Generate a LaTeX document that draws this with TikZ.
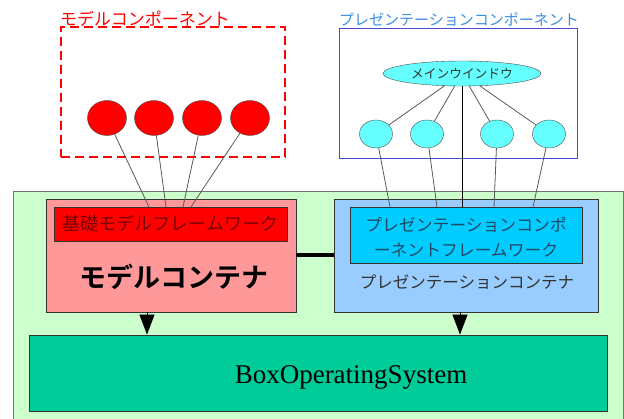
\documentclass[tikz,border=0pt]{standalone}
\usepackage{fontspec}
\setmainfont{Liberation Serif}
\newfontfamily\jp{Noto Sans CJK JP}[BoldFont={Noto Sans CJK JP Bold}]
\definecolor{cmred}{HTML}{FF0000}
\definecolor{cmpink}{HTML}{FF9999}
\definecolor{cmdark}{HTML}{7A0000}
\definecolor{cpblue}{HTML}{99CCFF}
\definecolor{cpcyan}{HTML}{00CCFF}
\definecolor{cplight}{HTML}{66FFFF}
\definecolor{cpline}{HTML}{4848CC}
\definecolor{cplabel}{HTML}{3A8EE6}
\definecolor{cptext}{HTML}{1F4A66}
\definecolor{cgreen}{HTML}{CCFFCC}
\definecolor{cos}{HTML}{00CC99}
\usepackage{tikz}
\usetikzlibrary{arrows.meta,positioning,shapes.geometric}

\begin{document}
\begin{tikzpicture}[x=1pt,y=-1pt,
    box/.style={draw=black!80,line width=0.8pt,inner sep=0pt,align=center},
    jpf/.style={font=\jp\fontsize{#1}{#1}\selectfont},
    redball/.style={ellipse,draw=black!70,fill=cmred,minimum width=39pt,minimum height=35pt,inner sep=0pt},
    cyball/.style={ellipse,draw=black!70,fill=cplight,minimum width=33pt,minimum height=28pt,inner sep=0pt},
    wire/.style={black!65,line width=0.8pt},
    arr/.style={-{Triangle[width=15pt,length=20pt]},black,line width=0.8pt}]
  \useasboundingbox (0,0) rectangle (624,419);
  % outer area and containers
  \node[box,draw=black!55,fill=cgreen,minimum width=610pt,minimum height=240pt] (base) at (318,311) {};
  \node[box,fill=cmpink,minimum width=250pt,minimum height=113pt] (mcont) at (171,255.5) {};
  \node[box,fill=cpblue,minimum width=264pt,minimum height=113pt] (pcont) at (466,255.5) {};
  \node[box,fill=cmred,text=cmdark,jpf=18,minimum width=233pt,minimum height=34pt] (mfw) at (170.5,224) {基礎モデルフレームワーク};
  \node[box,fill=cpcyan,minimum width=232pt,minimum height=56pt] (pfw) at (466,235) {};
  \node[jpf=16.8,text=cptext,align=center] (pfwlab) at (466,237.5)
    {プレゼンテーションコンポ\\[8.5pt]ーネントフレームワーク};
  \node[font=\jp\bfseries\fontsize{27}{27}\selectfont] (mlab) at (174,277) {モデルコンテナ};
  \node[jpf=16.5,text=black!80] (plab) at (467,282) {プレゼンテーションコンテナ};
  \node[box,fill=cos,minimum width=578pt,minimum height=76pt] (os) at (318,373) {};
  \node[font=\fontsize{27}{28}\selectfont,anchor=base] (oslab) at (351,384) {BoxOperatingSystem};
  \draw[line width=4pt] (mcont.east) -- (pcont.west);
  \draw[arr] ([xshift=-24pt]mcont.south) -- ([xshift=-24pt]mcont.south |- os.north);
  \draw[arr] ([xshift=-6pt]pcont.south) -- ([xshift=-6pt]pcont.south |- os.north);

  % model components
  \node[draw=cmred,dashed,dash pattern=on 9pt off 5pt,line width=2.5pt,minimum width=224pt,minimum height=130pt] (mcomp) at (173,92) {};
  \node[jpf=17,text=cmred,anchor=south west,inner sep=0pt] (mclab) at (60,27) {モデルコンポーネント};
  \node[redball] (m1) at (107,118) {};
  \node[redball] (m2) at (154,118) {};
  \node[redball] (m3) at (202,118) {};
  \node[redball] (m4) at (250,118) {};
  \coordinate (mt1) at (149,207);
  \coordinate (mt2) at (166,207);
  \coordinate (mt3) at (183,207);
  \coordinate (mt4) at (191,207);
  \foreach \i in {1,...,4}
    \draw[wire] (m\i) -- (mt\i);

  % presentation components
  \node[draw=cpline,line width=1pt,minimum width=238pt,minimum height=130pt] (pcomp) at (458,94) {};
  \node[jpf=15,text=cplabel,anchor=south west,inner sep=0pt] (pclab) at (339,27) {プレゼンテーションコンポーネント};
  \node[ellipse,draw=black!70,fill=cplight,jpf=12.7,text=black!80,minimum width=158pt,minimum height=25pt,inner sep=0pt] (mw) at (462,73.5) {メインウインドウ};
  \node[cyball] (p1) at (376,134) {};
  \node[cyball] (p2) at (427,134) {};
  \node[cyball] (p3) at (497,134) {};
  \node[cyball] (p4) at (549,134) {};
  \coordinate (pt1) at (390,207);
  \coordinate (pt2) at (437,207);
  \coordinate (pt3) at (494,207);
  \coordinate (pt4) at (533,207);
  \coordinate (pt0) at (462,207);
  \foreach \i in {1,...,4} {
    \draw[wire] (mw) -- (p\i);
    \draw[wire] (p\i) -- (pt\i);
  }
  \draw[wire,black] (mw.south) -- (pt0);
\end{tikzpicture}
\end{document}
